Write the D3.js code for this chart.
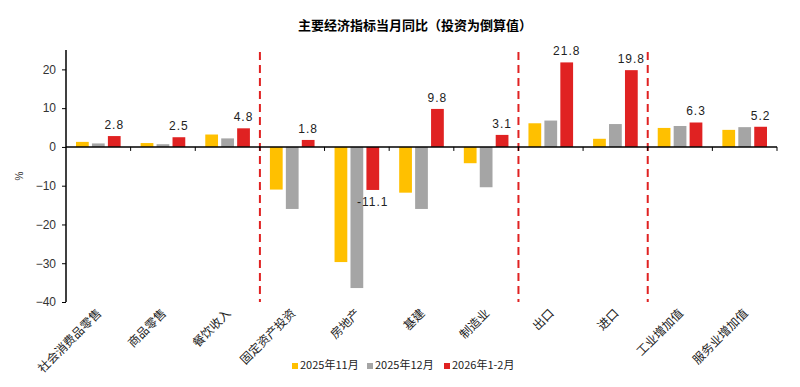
<!DOCTYPE html>
<html>
<head>
<meta charset="utf-8">
<script src="https://cdn.jsdelivr.net/npm/d3@7"></script>
<style>
  body { margin: 0; background: #fff; }
  text { font-family: "Liberation Sans", Arial, sans-serif; }
  .cjk { font-family: "Noto Sans CJK SC", sans-serif; }
</style>
</head>
<body>
<script>
// categories and series
var categories = ["社会消费品零售", "商品零售", "餐饮收入", "固定资产投资", "房地产", "基建",
  "制造业", "出口", "进口", "工业增加值", "服务业增加值"];
var seriesNames = ["2025年11月", "2025年12月", "2026年1-2月"];
var nov2025 = [1.3, 1.0, 3.2, -11.0, -29.7, -11.8, -4.2, 6.1, 2.1, 4.9, 4.4];
var dec2025 = [0.9, 0.7, 2.2, -16.0, -36.4, -16.0, -10.4, 6.8, 5.9, 5.4, 5.1];
var janFeb2026 = [2.8, 2.5, 4.8, 1.8, -11.1, 9.8, 3.1, 21.8, 19.8, 6.3, 5.2];
var yTicks = [-40, -30, -20, -10, 0, 10, 20];
// dividers sit after these categories
var dividerAfter = ["餐饮收入", "制造业", "进口"];

var colors = ["#FFC000", "#A5A5A5", "#E02222"];
var width = 800, height = 387;
var plotLeft = 66, plotRight = 777, plotTop = 50, plotBottom = 302;

var svg = d3.select("body").append("svg")
  .attr("width", width)
  .attr("height", height);

var x = d3.scaleBand().domain(categories).range([plotLeft, plotRight]).padding(0);
var x1 = d3.scaleBand().domain(d3.range(3)).range([10, x.bandwidth() - 10]).paddingInner(0.2);
var y = d3.scaleLinear().domain([-40, 25]).range([plotBottom, plotTop]);

var table = categories.map(function (c, i) {
  return { cat: c, values: [nov2025[i], dec2025[i], janFeb2026[i]] };
});

// title
svg.append("text")
  .attr("class", "cjk")
  .attr("x", 415)
  .attr("y", 30)
  .attr("text-anchor", "middle")
  .style("font-size", "13px")
  .style("font-weight", "bold")
  .text("主要经济指标当月同比（投资为倒算值）");

// bars
var groups = svg.selectAll(".grp")
  .data(table)
  .enter()
  .append("g")
  .attr("class", "grp")
  .attr("transform", function (d) { return "translate(" + x(d.cat) + ",0)"; });

groups.selectAll("rect")
  .data(function (d) { return d.values.map(function (v, k) { return { k: k, v: v }; }); })
  .enter()
  .append("rect")
  .attr("x", function (d) { return x1(d.k); })
  .attr("width", x1.bandwidth())
  .attr("y", function (d) { return y(Math.max(0, d.v)); })
  .attr("height", function (d) { return Math.abs(y(d.v) - y(0)); })
  .attr("fill", function (d) { return colors[d.k]; });

// labels on the last series
groups.append("text")
  .attr("x", x1(2) + x1.bandwidth() / 2)
  .attr("y", function (d) {
    var v = d.values[2];
    return v >= 0 ? y(v) - 7 : y(v) + 16;
  })
  .attr("text-anchor", "middle")
  .style("font-size", "12px")
  .style("letter-spacing", "1px")
  .style("fill", "#222")
  .text(function (d) { return d.values[2].toFixed(1); });

// dashed dividers
svg.selectAll(".divider")
  .data(dividerAfter)
  .enter()
  .append("line")
  .attr("x1", function (d) { return x(d) + x.bandwidth(); })
  .attr("x2", function (d) { return x(d) + x.bandwidth(); })
  .attr("y1", plotTop + 2)
  .attr("y2", plotBottom)
  .attr("stroke", "#E02222")
  .attr("stroke-width", 2)
  .attr("stroke-dasharray", "8,5");

// y axis
var yAxis = svg.append("g")
  .attr("transform", "translate(" + plotLeft + ",0)")
  .call(d3.axisLeft(y).tickValues(yTicks).tickSize(4).tickPadding(6));
yAxis.select(".domain").attr("stroke", "#000").attr("stroke-width", 1.5)
  .attr("d", "M0," + plotTop + "V" + plotBottom);
yAxis.selectAll("text").style("font-size", "12px").style("fill", "#333")
  .style("font-family", "'Liberation Sans', Arial, sans-serif");

svg.append("text")
  .attr("transform", "translate(23,176) rotate(-90)")
  .attr("text-anchor", "middle")
  .style("font-size", "10px")
  .style("fill", "#333")
  .text("%");

// zero axis with boundary ticks
var xAxis = svg.append("g")
  .attr("transform", "translate(0," + y(0) + ")");
xAxis.append("line")
  .attr("x1", plotLeft).attr("x2", plotRight)
  .attr("stroke", "#000").attr("stroke-width", 1.5);
xAxis.selectAll(".tk")
  .data(categories)
  .enter()
  .append("line")
  .attr("x1", function (d) { return x(d) + x.bandwidth(); })
  .attr("x2", function (d) { return x(d) + x.bandwidth(); })
  .attr("y1", 0).attr("y2", 4)
  .attr("stroke", "#000");

// category labels rotated
svg.selectAll(".catlab")
  .data(categories)
  .enter()
  .append("text")
  .attr("class", "cjk")
  .attr("transform", function (d) {
    return "translate(" + (x(d) + x.bandwidth() / 2 + 4) + "," + (plotBottom + 12) + ") rotate(-45)";
  })
  .attr("text-anchor", "end")
  .style("font-size", "12px")
  .style("fill", "#222")
  .text(function (d) { return d; });

// legend
var legendX = [292, 367, 444];
var legend = svg.selectAll(".lg")
  .data(seriesNames)
  .enter()
  .append("g")
  .attr("transform", function (d, i) { return "translate(" + legendX[i] + ",369)"; });
legend.append("rect")
  .attr("x", 0).attr("y", -6)
  .attr("width", 6).attr("height", 6)
  .attr("fill", function (d, i) { return colors[i]; });
legend.append("text")
  .attr("class", "cjk")
  .attr("x", 8)
  .attr("y", 0)
  .style("font-size", "11px")
  .style("fill", "#222")
  .text(function (d) { return d; });
</script>
</body>
</html>
